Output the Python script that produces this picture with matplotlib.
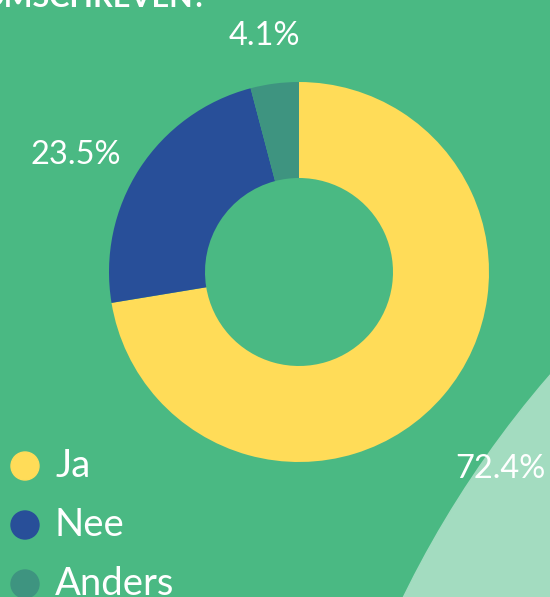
import matplotlib
matplotlib.use("Agg")
import matplotlib.pyplot as plt
from matplotlib.patches import Circle

categories = ["Ja", "Nee", "Anders"]
values = [72.4, 23.5, 4.1]
pct_labels = ["72.4%", "23.5%", "4.1%"]
title_text = "OMSCHREVEN?"

colors = ["#FFDC58", "#284F99", "#3E9480"]
bg = "#4AB983"
light = "#A3DCC0"
W, H = 550, 597

fig = plt.figure(figsize=(5.5, 5.97), dpi=100, facecolor=bg)
ax = fig.add_axes([0, 0, 1, 1])
ax.set_facecolor(bg)

# large decorative circle bottom-right
ax.add_patch(Circle((1329, H - 1049), 1030, color=light, zorder=0, clip_on=True))

# donut
cx, cy, R = 299, H - 272, 190
ax.pie(values, colors=colors, startangle=90, counterclock=False,
       center=(cx, cy), radius=R, frame=True,
       wedgeprops=dict(width=96, linewidth=0))
ax.set_xlim(0, W)
ax.set_ylim(0, H)
ax.axis("off")

font = "Lato"
# percentage labels (positions in pixel space)
label_pos = [(500, 469), (76, 155), (264, 36)]
for t, (x, y) in zip(pct_labels, label_pos):
    ax.text(x, H - y, t, ha="center", va="center", color="white",
            fontsize=23.5, family=font, zorder=5)

# title (cut off at top)
ax.text(208, H - 7, title_text, ha="right", va="baseline", color="white",
        fontsize=22, fontweight="bold", family=font, zorder=5)

# legend
leg_y = [466, 525, 584]
for c, lab, y in zip(colors, categories, leg_y):
    ax.add_patch(Circle((25, H - y), 14, color=c, zorder=5))
    ax.text(55, H - y, lab, ha="left", va="center", color="white",
            fontsize=27.5, family=font, zorder=5)

fig.savefig("out.png", dpi=100, facecolor=bg)
